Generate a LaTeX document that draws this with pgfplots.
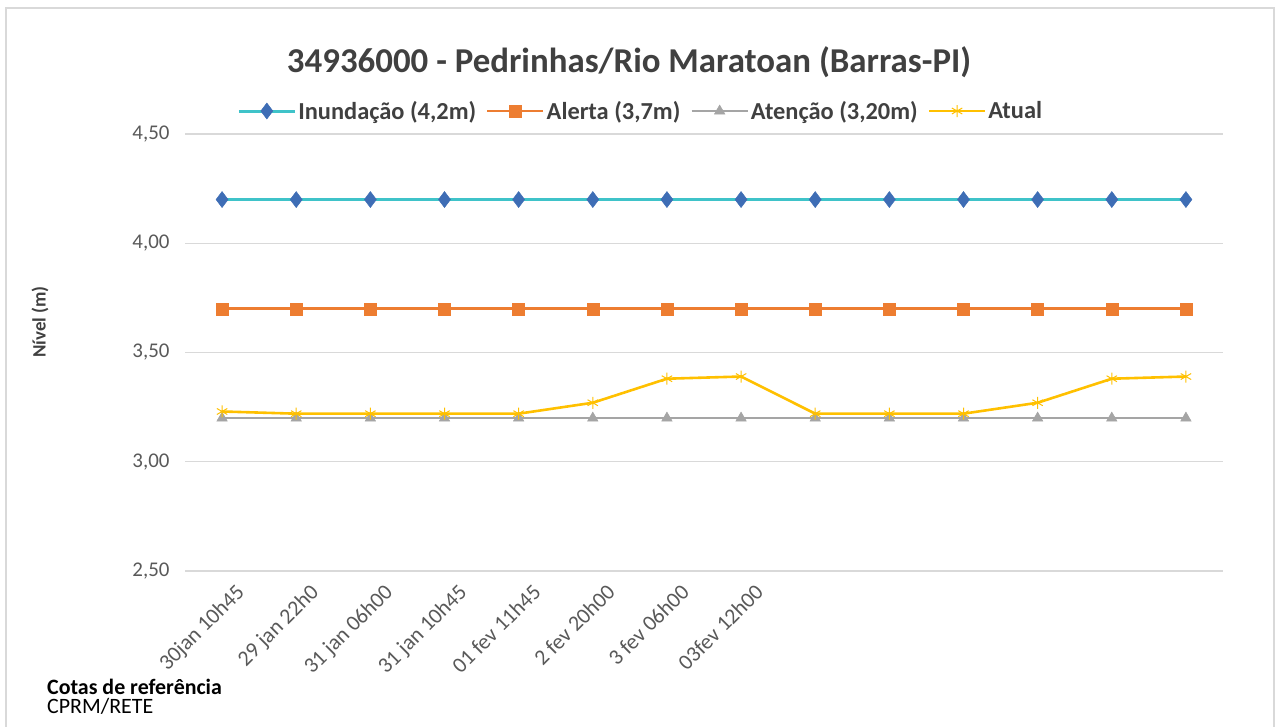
\documentclass[border=0pt]{standalone}
\usepackage{fontspec}
\setmainfont{Carlito}
\usepackage{pgfplots}
\pgfplotsset{compat=1.18}
\definecolor{inund}{HTML}{3FC3C9}
\definecolor{inundmk}{HTML}{3E6DB5}
\definecolor{alerta}{HTML}{ED7D31}
\definecolor{atencao}{HTML}{A5A5A5}
\definecolor{atual}{HTML}{FFC000}
\definecolor{txt}{HTML}{595959}
\definecolor{ttl}{HTML}{404040}

\begin{document}
\begin{tikzpicture}[x=1bp,y=1bp]
\begin{axis}[
  at={(185bp,156bp)}, anchor=south west,
  scale only axis, width=1038bp, height=437bp,
  xmin=-0.5, xmax=13.5, ymin=2.5, ymax=4.5,
  xtick={0,...,13},
  xticklabels={30jan 10h45,29 jan 22h0,31 jan 06h00,31 jan 10h45,01 fev 11h45,2 fev 20h00,3 fev 06h00,03fev 12h00,{},{},{},{},{},{}},
  x tick label style={rotate=45, anchor=north east, font=\fontsize{22}{26}\selectfont, text=txt, inner sep=1bp, xshift=2bp, yshift=-16bp},
  ytick={2.5,3,3.5,4,4.5},
  y tick label style={font=\fontsize{21}{25}\selectfont, text=txt, xshift=-12bp},
  yticklabel style={/pgf/number format/.cd, fixed, fixed zerofill, precision=2, use comma, assume math mode=true},
  major tick length=0pt,
  ymajorgrids, grid style={color=gray!30, line width=1.2bp},
  axis line style={draw=none},
  legend columns=4,
  legend style={at={(0.439,1.0526)}, anchor=center, draw=none, fill=none,
    font=\fontsize{24.5}{29}\selectfont\bfseries, text=ttl, inner sep=0pt,
    /tikz/every even column/.append style={column sep=8bp}},
  legend cell align=left,
  legend image code/.code={\draw[mark repeat=2,mark phase=2,#1] plot coordinates {(0bp,0bp) (28bp,0bp) (56bp,0bp)};},
]
\addplot[color=inund, line width=3bp, mark=diamond*, mark size=8bp, mark options={fill=inundmk, draw=inundmk, line width=0.5bp}]
  coordinates {(0,4.2) (1,4.2) (2,4.2) (3,4.2) (4,4.2) (5,4.2) (6,4.2) (7,4.2) (8,4.2) (9,4.2) (10,4.2) (11,4.2) (12,4.2) (13,4.2)};
\addlegendentry{Inundação (4,2m)}
\addplot[color=alerta, line width=2.6bp, mark=square*, mark size=6bp, mark options={fill=alerta, line width=0.5bp}]
  coordinates {(0,3.7) (1,3.7) (2,3.7) (3,3.7) (4,3.7) (5,3.7) (6,3.7) (7,3.7) (8,3.7) (9,3.7) (10,3.7) (11,3.7) (12,3.7) (13,3.7)};
\addlegendentry{Alerta (3,7m)}
\addplot[color=atencao, line width=2.6bp, mark=triangle*, mark size=6bp, mark options={fill=atencao, line width=0.5bp}]
  coordinates {(0,3.2) (1,3.2) (2,3.2) (3,3.2) (4,3.2) (5,3.2) (6,3.2) (7,3.2) (8,3.2) (9,3.2) (10,3.2) (11,3.2) (12,3.2) (13,3.2)};
\addlegendentry{Atenção (3,20m)}
\addplot[color=atual, line width=2.6bp, mark=asterisk, mark size=6bp, mark options={line width=1bp}]
  coordinates {(0,3.23) (1,3.22) (2,3.22) (3,3.22) (4,3.22) (5,3.27) (6,3.38) (7,3.39) (8,3.22) (9,3.22) (10,3.22) (11,3.27) (12,3.38) (13,3.39)};
\addlegendentry{Atual}
\end{axis}
\node[font=\fontsize{35}{41}\selectfont\bfseries, text=ttl] at (629bp,665bp) {34936000 - Pedrinhas/Rio Maratoan (Barras-PI)};
\node[rotate=90, font=\fontsize{19}{23}\selectfont\bfseries, text=ttl] at (40bp,405bp) {Nível (m)};
\node[anchor=base west, inner sep=0pt, font=\fontsize{22}{26}\selectfont\bfseries, text=black] at (47bp,33bp) {Cotas de referência};
\node[anchor=base west, inner sep=0pt, font=\fontsize{22}{26}\selectfont, text=black] at (47bp,14bp) {CPRM/RETE};
\draw[gray!30, line width=1.5bp] (6bp,-5bp) -- (6bp,719bp) -- (1274bp,719bp) -- (1274bp,-5bp);
\pgfresetboundingbox
\path (0bp,0bp) rectangle (1280bp,727bp);
\end{tikzpicture}
\end{document}
